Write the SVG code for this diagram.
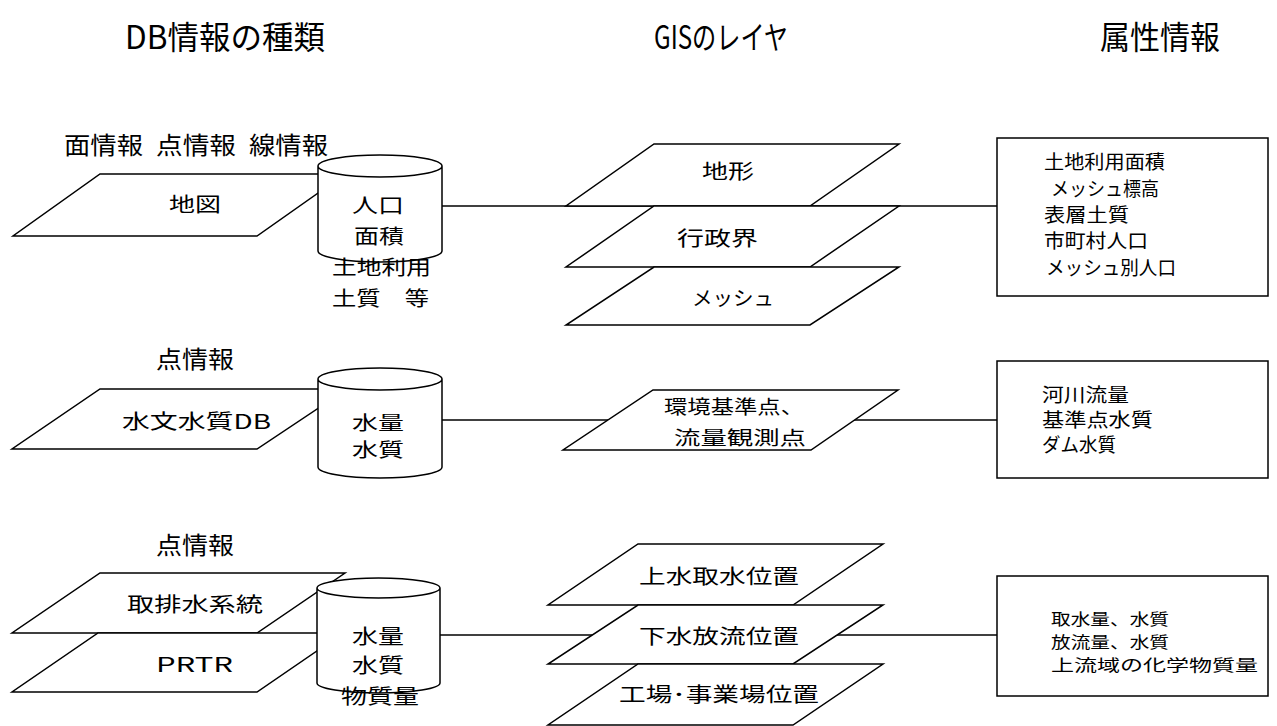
<svg xmlns="http://www.w3.org/2000/svg" width="1277" height="726" viewBox="0 0 1277 726">
<style>
text{font-family:"Noto Sans CJK JP","Noto Sans CJK SC",sans-serif;fill:#000;dominant-baseline:central}
.t{font-size:32px}
.l{font-size:24px}
.b{font-size:20px}
.c{font-size:19px}
.s{font-size:19px}
.x{font-size:16px}
.shape{fill:#fff;stroke:#000;stroke-width:1.5}
.conn{stroke:#000;stroke-width:1.5;fill:none}
</style>
<rect width="1277" height="726" fill="#fff"/>
<g id="titles">
<text class="t" x="125" y="35" textLength="200" lengthAdjust="spacingAndGlyphs">DB情報の種類</text>
<text class="t" x="654" y="35" textLength="134" lengthAdjust="spacingAndGlyphs">GISのレイヤ</text>
<text class="t" x="1100" y="35" textLength="120" lengthAdjust="spacingAndGlyphs">属性情報</text>
</g>
<g id="connectors">
<line class="conn" x1="442" y1="206" x2="997" y2="206"/>
<line class="conn" x1="442" y1="420" x2="997" y2="420"/>
<line class="conn" x1="440" y1="635" x2="997" y2="635"/>
</g>
<g id="row1-labels">
<text class="l" x="64" y="143" textLength="79" lengthAdjust="spacingAndGlyphs">面情報</text>
<text class="l" x="156" y="143" textLength="80" lengthAdjust="spacingAndGlyphs">点情報</text>
<text class="l" x="249" y="143" textLength="79" lengthAdjust="spacingAndGlyphs">線情報</text>
</g>
<g id="map">
<polygon class="shape" points="100,174 345,174 257,236 13,236"/>
<text class="b" x="169" y="203" textLength="52" lengthAdjust="spacingAndGlyphs">地図</text>
</g>
<g id="db1">
<path class="shape" d="M318,166 V251 A62,11 0 0 0 442,251 V166 A62,11 0 0 0 318,166 Z M318,166 A62,11 0 0 0 442,166"/>
<text class="b" x="352" y="204" textLength="52" lengthAdjust="spacingAndGlyphs">人口</text>
<text class="b" x="354" y="235" textLength="50" lengthAdjust="spacingAndGlyphs">面積</text>
<text class="b" x="332" y="266" textLength="99" lengthAdjust="spacingAndGlyphs">土地利用</text>
<text class="b" x="332" y="297" textLength="97" lengthAdjust="spacingAndGlyphs">土質　等</text>
</g>
<g id="layer-chikei">
<polygon class="shape" points="654,144 899,144 810,206 566,206"/>
<text class="b" x="702" y="170" textLength="52" lengthAdjust="spacingAndGlyphs">地形</text>
</g>
<g id="layer-gyoseikai">
<polygon class="shape" points="654,206 899,206 810,267 566,267"/>
<text class="b" x="677" y="237" textLength="81" lengthAdjust="spacingAndGlyphs">行政界</text>
</g>
<g id="layer-mesh">
<polygon class="shape" points="654,267 899,267 810,325 566,325"/>
<text class="b" x="692" y="297" textLength="82" lengthAdjust="spacingAndGlyphs">メッシュ</text>
</g>
<g id="attr1">
<rect class="shape" x="997" y="138" width="271" height="158"/>
<text class="s" x="1044" y="160" textLength="121" lengthAdjust="spacingAndGlyphs">土地利用面積</text>
<text class="s" x="1051" y="187" textLength="108" lengthAdjust="spacingAndGlyphs">メッシュ標高</text>
<text class="s" x="1044" y="213" textLength="85" lengthAdjust="spacingAndGlyphs">表層土質</text>
<text class="s" x="1044" y="239" textLength="104" lengthAdjust="spacingAndGlyphs">市町村人口</text>
<text class="s" x="1046" y="266" textLength="130" lengthAdjust="spacingAndGlyphs">メッシュ別人口</text>
</g>
<g id="row2-label">
<text class="l" x="156" y="357" textLength="78" lengthAdjust="spacingAndGlyphs">点情報</text>
</g>
<g id="suimon">
<polygon class="shape" points="100,389 347,389 257,449 12,449"/>
<text class="b" x="122" y="420" textLength="149" lengthAdjust="spacingAndGlyphs">水文水質DB</text>
</g>
<g id="db2">
<path class="shape" d="M318,379 V467 A62,11 0 0 0 442,467 V379 A62,11 0 0 0 318,379 Z M318,379 A62,11 0 0 0 442,379"/>
<text class="c" x="352" y="421" textLength="52" lengthAdjust="spacingAndGlyphs">水量</text>
<text class="c" x="352" y="448" textLength="52" lengthAdjust="spacingAndGlyphs">水質</text>
</g>
<g id="layer-kankyo">
<polygon class="shape" points="653,390 898,390 811,450 563,450"/>
<text class="s" x="664" y="405" textLength="140" lengthAdjust="spacingAndGlyphs">環境基準点、</text>
<text class="s" x="674" y="436" textLength="132" lengthAdjust="spacingAndGlyphs">流量観測点</text>
</g>
<g id="attr2">
<rect class="shape" x="997" y="361" width="271" height="117"/>
<text class="s" x="1042" y="393" textLength="87" lengthAdjust="spacingAndGlyphs">河川流量</text>
<text class="s" x="1042" y="418" textLength="111" lengthAdjust="spacingAndGlyphs">基準点水質</text>
<text class="s" x="1042" y="443" textLength="74" lengthAdjust="spacingAndGlyphs">ダム水質</text>
</g>
<g id="row3-label">
<text class="l" x="156" y="543" textLength="78" lengthAdjust="spacingAndGlyphs">点情報</text>
</g>
<g id="shuhai">
<polygon class="shape" points="100,573 345,573 257,633 12,633"/>
<text class="b" x="127" y="603" textLength="136" lengthAdjust="spacingAndGlyphs">取排水系統</text>
</g>
<g id="prtr">
<polygon class="shape" points="98,633 343,633 257,692 12,692"/>
<text class="b" x="156" y="663" textLength="77" lengthAdjust="spacingAndGlyphs">PRTR</text>
</g>
<g id="db3">
<path class="shape" d="M317,588 V683 A61.5,10 0 0 0 440,683 V588 A61.5,10 0 0 0 317,588 Z M317,588 A61.5,10 0 0 0 440,588"/>
<text class="b" x="352" y="635" textLength="52" lengthAdjust="spacingAndGlyphs">水量</text>
<text class="b" x="352" y="664" textLength="52" lengthAdjust="spacingAndGlyphs">水質</text>
<text class="b" x="341" y="695" textLength="78" lengthAdjust="spacingAndGlyphs">物質量</text>
</g>
<g id="layer-jousui">
<polygon class="shape" points="638,544 883,544 793,605 548,605"/>
<text class="b" x="639" y="575" textLength="160" lengthAdjust="spacingAndGlyphs">上水取水位置</text>
</g>
<g id="layer-gesui">
<polygon class="shape" points="638,605 883,605 793,664 548,664"/>
<text class="b" x="639" y="635" textLength="160" lengthAdjust="spacingAndGlyphs">下水放流位置</text>
</g>
<g id="layer-kojo">
<polygon class="shape" points="638,664 883,664 793,725 548,725"/>
<text class="b" x="619" y="693" textLength="200" lengthAdjust="spacingAndGlyphs">工場･事業場位置</text>
</g>
<g id="attr3">
<rect class="shape" x="997" y="576" width="271" height="120"/>
<text class="x" x="1051" y="618" textLength="118" lengthAdjust="spacingAndGlyphs">取水量、水質</text>
<text class="x" x="1051" y="641" textLength="118" lengthAdjust="spacingAndGlyphs">放流量、水質</text>
<text class="x" x="1051" y="664" textLength="207" lengthAdjust="spacingAndGlyphs">上流域の化学物質量</text>
</g>
</svg>
